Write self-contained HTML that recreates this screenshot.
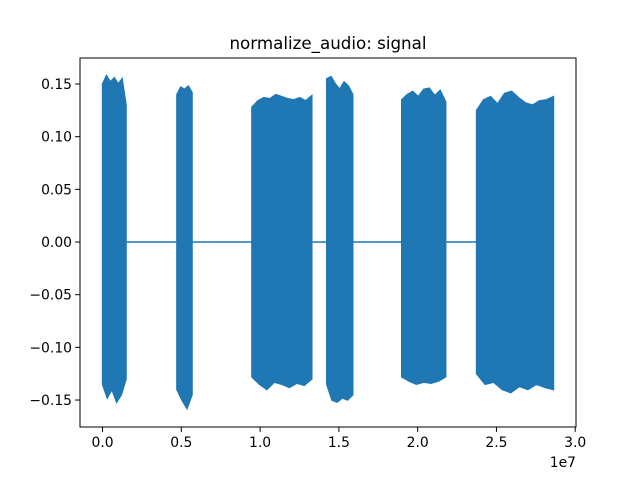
<!DOCTYPE html>
<html><head><meta charset="utf-8"><style>
body{margin:0;background:#fff}
svg{display:block;font-family:"DejaVu Sans","Liberation Sans",sans-serif}
</style></head><body>
<svg id="chart" width="640" height="480">
<rect width="640" height="480" fill="#fff"/>
<text x="328" y="49" font-size="16.7" text-anchor="middle">normalize_audio: signal</text>
<g id="plot"></g>
<rect x="80" y="58" width="496" height="369" fill="none" stroke="#000" stroke-width="1"/>
<g id="axes"></g>
<text x="576" y="467" font-size="13.9" text-anchor="end">1e7</text>
</svg>
<script>
const burstStart=[0,0.472,0.948,1.423,1.899,2.374];
const burstEnd=[0.149,0.568,1.328,1.588,2.178,2.862];
const burstTop=[
[0.150,0.158,0.152,0.156,0.150,0.155,0.130],
[0.140,0.147,0.145,0.148,0.142],
[0.128,0.134,0.137,0.136,0.140,0.138,0.136,0.135,0.137,0.134,0.139],
[0.155,0.157,0.150,0.145,0.152,0.148,0.140],
[0.135,0.140,0.143,0.138,0.145,0.146,0.139,0.144,0.133],
[0.125,0.135,0.138,0.131,0.141,0.143,0.137,0.132,0.130,0.134,0.135,0.138]];
const burstBottom=[
[-0.135,-0.148,-0.140,-0.152,-0.145,-0.130],
[-0.140,-0.150,-0.158,-0.145],
[-0.128,-0.135,-0.140,-0.133,-0.135,-0.138,-0.134,-0.136,-0.130],
[-0.135,-0.150,-0.152,-0.148,-0.150,-0.145],
[-0.128,-0.132,-0.135,-0.133,-0.134,-0.132,-0.128],
[-0.125,-0.135,-0.133,-0.140,-0.143,-0.137,-0.140,-0.135,-0.138,-0.140]];
const signalEnd=2.862;
const xTicks=[0,0.5,1.0,1.5,2.0,2.5,3.0];
const xTickLabels=["0.0","0.5","1.0","1.5","2.0","2.5","3.0"];
const yTicks=[0.15,0.10,0.05,0,-0.05,-0.10,-0.15];
const yTickLabels=["0.15","0.10","0.05","0.00","−0.05","−0.10","−0.15"];

const X0=80,X1=576,Y0=58,Y1=427;
const xmin=-0.1431,xmax=3.005,ymin=-0.1756,ymax=0.1747;
const sx=v=>X0+(v-xmin)/(xmax-xmin)*(X1-X0);
const sy=v=>Y1-(v-ymin)/(ymax-ymin)*(Y1-Y0);
const NS="http://www.w3.org/2000/svg";
const plot=document.getElementById('plot'),axes=document.getElementById('axes');
const C="#1f77b4";

const zl=document.createElementNS(NS,'line');
zl.setAttribute('x1',sx(0));zl.setAttribute('x2',sx(signalEnd));
zl.setAttribute('y1',sy(0));zl.setAttribute('y2',sy(0));
zl.setAttribute('stroke',C);zl.setAttribute('stroke-width',1.5);


plot.appendChild(zl);

burstStart.forEach((s,i)=>{
  const e=burstEnd[i],T=burstTop[i],B=burstBottom[i];
  const pts=[];
  T.forEach((v,k)=>{const x=s+(e-s)*k/(T.length-1);pts.push(sx(x)+','+sy(v));});
  for(let k=B.length-1;k>=0;k--){const x=s+(e-s)*k/(B.length-1);pts.push(sx(x)+','+sy(B[k]));}
  const p=document.createElementNS(NS,'polygon');
  p.setAttribute('points',pts.join(' '));
  p.setAttribute('fill',C);p.setAttribute('stroke',C);p.setAttribute('stroke-width',1.5);
  
  
  plot.appendChild(p);
});

xTicks.forEach((v,i)=>{
  const x=sx(v);
  const l=document.createElementNS(NS,'line');
  l.setAttribute('x1',x);l.setAttribute('x2',x);l.setAttribute('y1',Y1);l.setAttribute('y2',Y1+4.9);
  l.setAttribute('stroke','#000');
  
  
  axes.appendChild(l);
  const t=document.createElementNS(NS,'text');
  t.setAttribute('x',x);t.setAttribute('y',Y1+20);t.setAttribute('font-size','13.9');t.setAttribute('text-anchor','middle');
  t.textContent=xTickLabels[i];
  
  
  axes.appendChild(t);
});
yTicks.forEach((v,i)=>{
  const y=sy(v);
  const l=document.createElementNS(NS,'line');
  l.setAttribute('x1',X0-4.9);l.setAttribute('x2',X0);l.setAttribute('y1',y);l.setAttribute('y2',y);
  l.setAttribute('stroke','#000');
  
  
  axes.appendChild(l);
  const t=document.createElementNS(NS,'text');
  t.setAttribute('x',X0-8);t.setAttribute('y',y+5);t.setAttribute('font-size','13.9');t.setAttribute('text-anchor','end');
  t.textContent=yTickLabels[i];
  
  
  axes.appendChild(t);
});
</script>
</body></html>
